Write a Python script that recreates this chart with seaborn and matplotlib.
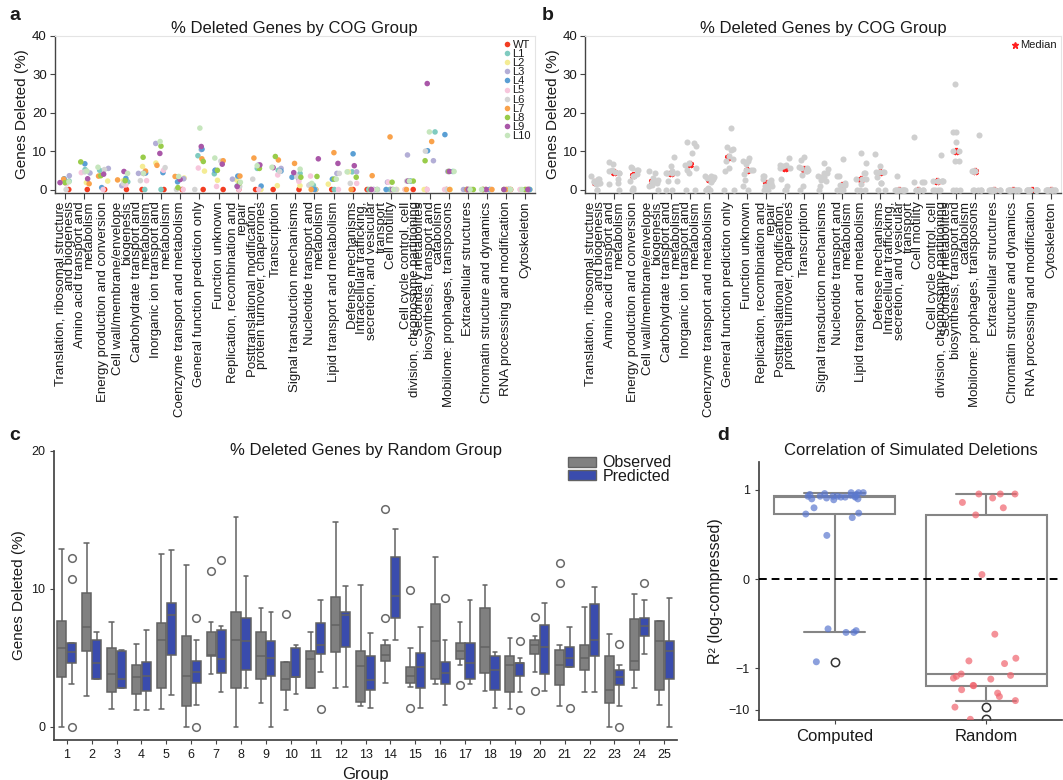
import numpy as np
import pandas as pd
import matplotlib
matplotlib.use("Agg")
import matplotlib.pyplot as plt
import seaborn as sns
from matplotlib.lines import Line2D
from matplotlib.patches import Patch

sns.set_theme(style="ticks")
plt.rcParams["font.family"] = ["Liberation Sans", "DejaVu Sans"]
plt.rcParams["axes.edgecolor"] = "#444444"
plt.rcParams["xtick.color"] = "#444444"
plt.rcParams["ytick.color"] = "#444444"
plt.rcParams["xtick.labelcolor"] = "#1a1a1a"
plt.rcParams["ytick.labelcolor"] = "#1a1a1a"
plt.rcParams["text.color"] = "#1a1a1a"
plt.rcParams["axes.labelcolor"] = "#1a1a1a"

# ---------------- data: panels a / b ----------------
cog_groups = [
    "Translation, ribosomal structure\nand biogenesis",
    "Amino acid transport and\nmetabolism",
    "Energy production and conversion",
    "Cell wall/membrane/envelope\nbiogenesis",
    "Carbohydrate transport and\nmetabolism",
    "Inorganic ion transport and\nmetabolism",
    "Coenzyme transport and metabolism",
    "General function prediction only",
    "Function unknown",
    "Replication, recombination and\nrepair",
    "Posttranslational modification,\nprotein turnover, chaperones",
    "Transcription",
    "Signal transduction mechanisms",
    "Nucleotide transport and\nmetabolism",
    "Lipid transport and metabolism",
    "Defense mechanisms",
    "Intracellular trafficking,\nsecretion, and vesicular\ntransport",
    "Cell motility",
    "Cell cycle control, cell\ndivision, chromosome partitioning",
    "Secondary metabolites\nbiosynthesis, transport and\ncatabolism",
    "Mobilome: prophages, transposons",
    "Extracellular structures",
    "Chromatin structure and dynamics",
    "RNA processing and modification",
    "Cytoskeleton",
]
strain_names = ["WT", "L1", "L2", "L3", "L4", "L5", "L6", "L7", "L8", "L9", "L10"]
strain_colors = ["#f23d22", "#80cbc0", "#f4ec94", "#b3aed6", "#5a9fd4", "#f7c6dc",
                 "#d4d4d4", "#f9a24b", "#99cc4a", "#a957a8", "#c6e6bd"]

WT = [0.0] * 25
L1 = [2.2, 5.2, 5.0, 2.0, 0.0, 0.0, 3.3, 8.8, 4.1, 0.9, 5.5, 5.0, 4.2, 1.1, 0.0, 4.6, 0, 0, 2.2, 15.0, 4.7, 0, 0, 0, 0]
L2 = [1.8, 1.8, 2.2, 2.3, 6.0, 6.9, 3.0, 4.8, 2.4, 2.5, 0.0, 1.0, 1.0, 0.0, 1.4, 4.6, 0, 0, 0, 0, 0, 0, 0, 0, 0]
L3 = [3.6, 4.3, 5.5, 1.0, 4.2, 12.0, 2.8, 10.4, 5.0, 2.7, 6.4, 5.5, 2.6, 1.2, 4.2, 4.6, 0, 1.9, 9.0, 7.5, 4.7, 0, 0, 0, 0]
L4 = [2.8, 6.7, 0.5, 2.9, 4.3, 4.4, 2.0, 10.5, 5.0, 3.5, 0.9, 4.8, 3.2, 0.0, 2.7, 9.3, 0, 0, 2.2, 10.1, 14.3, 0, 0, 0, 0]
L5 = [1.5, 4.4, 0.0, 1.2, 2.3, 5.0, 0.0, 5.6, 0.8, 0.0, 0.0, 3.8, 2.1, 3.5, 0.0, 1.6, 0, 1.9, 0, 0, 0, 0, 0, 0, 0]
L6 = [0.0, 4.6, 5.2, 1.6, 2.3, 5.7, 0.0, 0.0, 7.4, 0.8, 2.7, 4.7, 3.4, 1.1, 4.2, 1.6, 0, 0, 2.2, 10.0, 0, 0, 0, 0, 0]
L7 = [2.7, 1.5, 3.5, 2.5, 4.8, 6.3, 3.4, 8.0, 7.5, 3.5, 8.2, 7.7, 6.8, 0.0, 9.6, 0.0, 3.6, 13.7, 0, 12.5, 0, 0, 0, 0, 0]
L8 = [1.8, 7.2, 3.6, 2.3, 8.4, 11.3, 0.5, 7.3, 5.0, 1.7, 5.5, 8.6, 3.2, 3.4, 2.7, 3.2, 0, 1.9, 2.2, 7.5, 4.7, 0, 0, 0, 0]
L9 = [1.8, 2.8, 4.0, 4.7, 4.2, 9.4, 2.6, 11.2, 6.6, 0.8, 6.4, 5.7, 4.4, 8.0, 6.8, 6.2, 0, 0, 2.2, 27.6, 4.7, 0, 0, 0, 0]
L10 = [2.0, 4.8, 5.8, 4.2, 4.2, 12.5, 3.4, 16.0, 8.2, 1.9, 6.2, 5.8, 5.3, 1.6, 2.7, 4.6, 0, 0, 2.2, 15.0, 4.7, 0, 0, 0, 0]

# ---------------- data: panel c (box statistics) ----------------
group_labels = [str(i) for i in range(1, 26)]
obs_lo = [0.0, 2.2, 1.3, 1.2, 1.3, 0.0, 3.8, 0.0, 1.7, 1.2, 2.8, 2.8, 1.5, 3.2, 2.9, 3.1, 4.5, 2.6, 1.3, 4.0, 1.5, 2.5, 0.0, 2.8, 1.6]
obs_q1 = [3.6, 5.5, 2.5, 2.4, 2.8, 1.5, 5.1, 2.8, 3.5, 2.65, 2.8, 5.4, 1.8, 4.8, 3.2, 3.5, 4.9, 3.9, 2.5, 5.3, 3.0, 4.1, 1.7, 4.1, 2.7]
obs_med = [5.7, 7.2, 3.8, 3.6, 6.3, 3.7, 5.2, 6.3, 5.1, 3.5, 4.9, 7.4, 4.4, 5.2, 3.7, 6.2, 5.5, 5.8, 4.5, 5.9, 4.5, 5.0, 2.7, 4.8, 6.2]
obs_q3 = [7.7, 9.7, 5.7, 4.5, 7.5, 6.6, 6.9, 8.3, 6.9, 4.7, 5.5, 9.4, 5.5, 5.95, 4.3, 8.9, 6.1, 8.6, 5.1, 6.3, 5.6, 5.95, 5.1, 7.8, 7.7]
obs_hi = [12.9, 13.3, 7.6, 6.0, 12.5, 11.7, 7.6, 15.2, 8.6, 4.7, 6.9, 14.8, 10.3, 6.3, 5.7, 12.3, 7.6, 10.3, 6.4, 6.6, 5.95, 8.7, 6.75, 9.6, 7.7]
obs_out = [[], [], [], [], [], [], [11.3], [], [], [8.2], [], [], [], [7.9, 15.8], [1.4, 9.9], [],
           [3.0], [], [], [2.6, 7.95], [10.4, 11.9], [], [], [], []]

pred_lo = [3.1, 3.5, 2.8, 1.2, 2.3, 1.6, 2.5, 2.8, 0.0, 2.4, 4.0, 2.9, 1.4, 6.3, 1.4, 1.6, 3.1, 1.4, 2.5, 2.6, 4.3, 2.5, 1.5, 5.25, 0.0]
pred_q1 = [4.6, 3.5, 2.8, 2.6, 5.2, 3.2, 3.9, 4.1, 3.7, 3.6, 5.25, 5.8, 2.7, 7.9, 2.8, 3.1, 3.5, 2.7, 3.7, 3.8, 4.3, 5.1, 3.0, 6.6, 3.5]
pred_med = [5.4, 4.6, 3.5, 3.7, 8.1, 4.0, 4.9, 6.2, 5.0, 3.6, 5.95, 8.1, 3.4, 9.5, 4.3, 3.9, 4.65, 4.1, 4.6, 5.8, 5.0, 6.3, 3.6, 7.3, 5.5]
pred_q3 = [6.1, 6.3, 5.5, 4.7, 9.0, 4.8, 7.0, 7.9, 6.2, 5.7, 7.5, 8.3, 5.1, 12.3, 5.35, 4.7, 6.1, 5.1, 4.65, 7.35, 5.8, 8.9, 4.1, 7.9, 6.2]
pred_hi = [6.1, 6.9, 5.6, 7.0, 12.8, 6.3, 7.3, 10.9, 8.3, 5.95, 9.2, 10.2, 6.8, 14.3, 7.2, 6.3, 9.2, 5.4, 5.0, 9.0, 7.2, 10.1, 4.5, 9.2, 9.3]
pred_out = [[0.0, 10.7, 12.2], [], [], [], [], [0.0, 7.9], [12.1], [], [], [], [1.3], [], [], [], [], [9.3],
            [], [], [1.2, 6.2], [], [1.4], [], [0.0, 6.0], [10.4], []]

# ---------------- data: panel d ----------------
computed_r2 = [-0.93, -0.60, -0.60, -0.58, -0.56, 0.49, 0.69, 0.73, 0.74, 0.80, 0.89, 0.90, 0.90, 0.91,
               0.92, 0.92, 0.92, 0.93, 0.93, 0.93, 0.93, 0.93, 0.94, 0.95, 0.95, 0.96, 0.97, 0.97, 0.97]
random_r2 = [-16.8, -8.6, -6.0, -4.8, -3.98, -3.3, -2.65, -2.6, -1.84, -1.74, -1.58, -1.5, -1.39, -0.95,
             -0.92, -0.89, -0.62, 0.05, 0.72, 0.80, 0.86, 0.91, 0.955, 0.955, 0.955]
d_ticks = [1, 0, -1, -10]


def compress(v):
    v = np.asarray(v, dtype=float)
    out = v.copy()
    big = np.abs(v) > 1
    out[big] = np.sign(v[big]) * (1 + 0.47 * np.log10(np.abs(v[big])))
    return out


def box_sample(lo, q1, med, q3, hi, outs):
    low = sorted(o for o in outs if o < q1)
    high = sorted(o for o in outs if o > q3)
    return low + [lo] * (3 - len(low)) + [q1, q1, med, med, med, q3, q3] + [hi] * (3 - len(high)) + high


# ---------------- tables ----------------
series = [WT, L1, L2, L3, L4, L5, L6, L7, L8, L9, L10]
dfa = pd.DataFrame({
    "cog": np.tile(cog_groups, len(strain_names)),
    "strain": np.repeat(strain_names, len(cog_groups)),
    "pct": np.concatenate([np.asarray(s, float) for s in series]),
})
dfl = dfa[dfa["strain"] != "WT"]

rows = []
for i, g in enumerate(group_labels):
    for v in box_sample(obs_lo[i], obs_q1[i], obs_med[i], obs_q3[i], obs_hi[i], obs_out[i]):
        rows.append((g, "Observed", v))
    for v in box_sample(pred_lo[i], pred_q1[i], pred_med[i], pred_q3[i], pred_hi[i], pred_out[i]):
        rows.append((g, "Predicted", v))
dfc = pd.DataFrame(rows, columns=["group", "kind", "pct"])

dfd = pd.DataFrame({
    "method": ["Computed"] * len(computed_r2) + ["Random"] * len(random_r2),
    "r2c": np.concatenate([compress(computed_r2), compress(random_r2)]),
})

# ---------------- figure ----------------
fig = plt.figure(figsize=(10.63, 7.80), dpi=100)

axa = fig.add_axes([0.0513, 0.7526, 0.452, 0.2013])
axb = fig.add_axes([0.5503, 0.7526, 0.4478, 0.2013])
axc = fig.add_axes([0.0511, 0.0513, 0.5855, 0.3709])
axd = fig.add_axes([0.714, 0.0769, 0.285, 0.3312])

pal = dict(zip(strain_names, strain_colors))
sns.stripplot(data=dfa, x="cog", y="pct", hue="strain", order=cog_groups, hue_order=strain_names,
              palette=pal, jitter=0.3, size=4, linewidth=0, legend=False, ax=axa)

sns.stripplot(data=dfa, x="cog", y="pct", order=cog_groups, color="#cfcfcf", jitter=0.3,
              size=4.4, linewidth=0, ax=axb)
sns.pointplot(data=dfl, x="cog", y="pct", order=cog_groups, estimator="median", errorbar=None,
              color="#ff2020", markers="*", linestyles="none", markersize=4.5, ax=axb)


def style_cog(ax):
    ax.set_ylim(-0.9, 40)
    ax.set_xlim(-0.55, 24.5)
    ax.set_yticks([0, 10, 20, 30, 40])
    ax.set_xticks(range(len(cog_groups)))
    ax.set_xticklabels(cog_groups, rotation=90, fontsize=9.5, linespacing=0.72, multialignment="right")
    ax.set_xlabel("")
    ax.set_ylabel("Genes Deleted (%)", fontsize=11, labelpad=2)
    ax.tick_params(axis="y", labelsize=9.5, length=3.5, width=0.8, pad=2)
    ax.tick_params(axis="x", length=4, width=0.8, pad=2)
    for s in ["top", "right"]:
        ax.spines[s].set_color("#e4e4e4")
        ax.spines[s].set_linewidth(0.8)
    for s in ["left", "bottom"]:
        ax.spines[s].set_color("#444444")
        ax.spines[s].set_linewidth(1.0)
    ax.text(0.5, 1.045, "% Deleted Genes by COG Group", transform=ax.transAxes,
            ha="center", va="center", fontsize=12)


style_cog(axa)
style_cog(axb)

handles_a = [Line2D([], [], marker="o", ls="none", markersize=4, markerfacecolor=c,
                    markeredgewidth=0, label=s) for s, c in zip(strain_names, strain_colors)]
axa.legend(handles=handles_a, loc="upper right", frameon=False, fontsize=8, labelspacing=-0.08,
           handletextpad=0.05, handlelength=0.9, borderaxespad=0.1, borderpad=0.25)
axb.legend(handles=[Line2D([], [], marker="*", ls="none", markersize=4.5, color="#ff2020", label="Median")],
           loc="upper right", frameon=False, fontsize=8, handletextpad=0.05, handlelength=0.8,
           borderaxespad=0.1, borderpad=0.3)

# ---- panel c ----
sns.boxplot(data=dfc, x="group", y="pct", hue="kind", order=group_labels,
            hue_order=["Observed", "Predicted"],
            palette={"Observed": "#808080", "Predicted": "#3a4cad"}, saturation=1,
            width=0.8, gap=0.08, linewidth=1.1, linecolor="#626262", legend=False,
            flierprops=dict(marker="o", markerfacecolor="white", markeredgecolor="#6a6a6a",
                            markersize=5.5, markeredgewidth=1.1),
            ax=axc)
axc.set_ylim(-0.95, 20)
axc.set_xlim(-0.5, 24.5)
axc.set_yticks([0, 10, 20])
axc.set_ylabel("Genes Deleted (%)", fontsize=11)
axc.set_xlabel("Group", fontsize=12, labelpad=4)
axc.tick_params(axis="both", labelsize=9, length=3, width=0.8)
sns.despine(ax=axc)
axc.text(0.5, 1.0, "% Deleted Genes by Random Group", transform=axc.transAxes,
         ha="center", va="center", fontsize=12)
axc.legend(handles=[Patch(facecolor="#808080", edgecolor="#626262", label="Observed"),
                    Patch(facecolor="#3a4cad", edgecolor="#626262", label="Predicted")],
           loc="upper right", bbox_to_anchor=(1.0, 1.0), frameon=False, fontsize=11.5,
           labelspacing=-0.1, handlelength=1.8, handleheight=0.6, handletextpad=0.4,
           borderaxespad=0.1, borderpad=0.2)

# ---- panel d ----
sns.boxplot(data=dfd, x="method", y="r2c", order=["Computed", "Random"], whis=(5, 95),
            color="white", saturation=1, linecolor="#858585", linewidth=1.5, width=0.8,
            flierprops=dict(marker="o", markerfacecolor="none", markeredgecolor="#333333",
                            markersize=6, markeredgewidth=1.1),
            ax=axd)
sns.stripplot(data=dfd, x="method", y="r2c", hue="method", order=["Computed", "Random"],
              palette={"Computed": "#5b78cf", "Random": "#f0646e"}, alpha=0.7, size=5,
              jitter=0.22, linewidth=0, legend=False, ax=axd, zorder=3)
axd.axhline(0, color="black", ls="--", lw=1.4, dashes=(4, 2.5), zorder=4)
axd.set_ylim(-1.584, 1.318)
axd.set_xlim(-0.5, 1.5)
axd.set_yticks(compress(d_ticks))
axd.set_yticklabels([str(t).replace("-", "\u2212") for t in d_ticks])
axd.set_xlabel("")
axd.set_ylabel("R\u00b2 (log-compressed)", fontsize=11.5, labelpad=4)
axd.tick_params(axis="y", labelsize=9, length=3, width=0.8)
axd.tick_params(axis="x", labelsize=12, length=3, width=0.8)
sns.despine(ax=axd)
axd.text(0.5, 1.045, "Correlation of Simulated Deletions", transform=axd.transAxes,
         ha="center", va="center", fontsize=12)

# panel letters
for ch, (px, py) in {"a": (15, 15), "b": (548, 15), "c": (15, 436), "d": (723, 436)}.items():
    fig.text(px / 1063, 1 - py / 780, ch, fontsize=14, fontweight="bold", ha="center", va="center")

fig.savefig("out.png", dpi=100)
